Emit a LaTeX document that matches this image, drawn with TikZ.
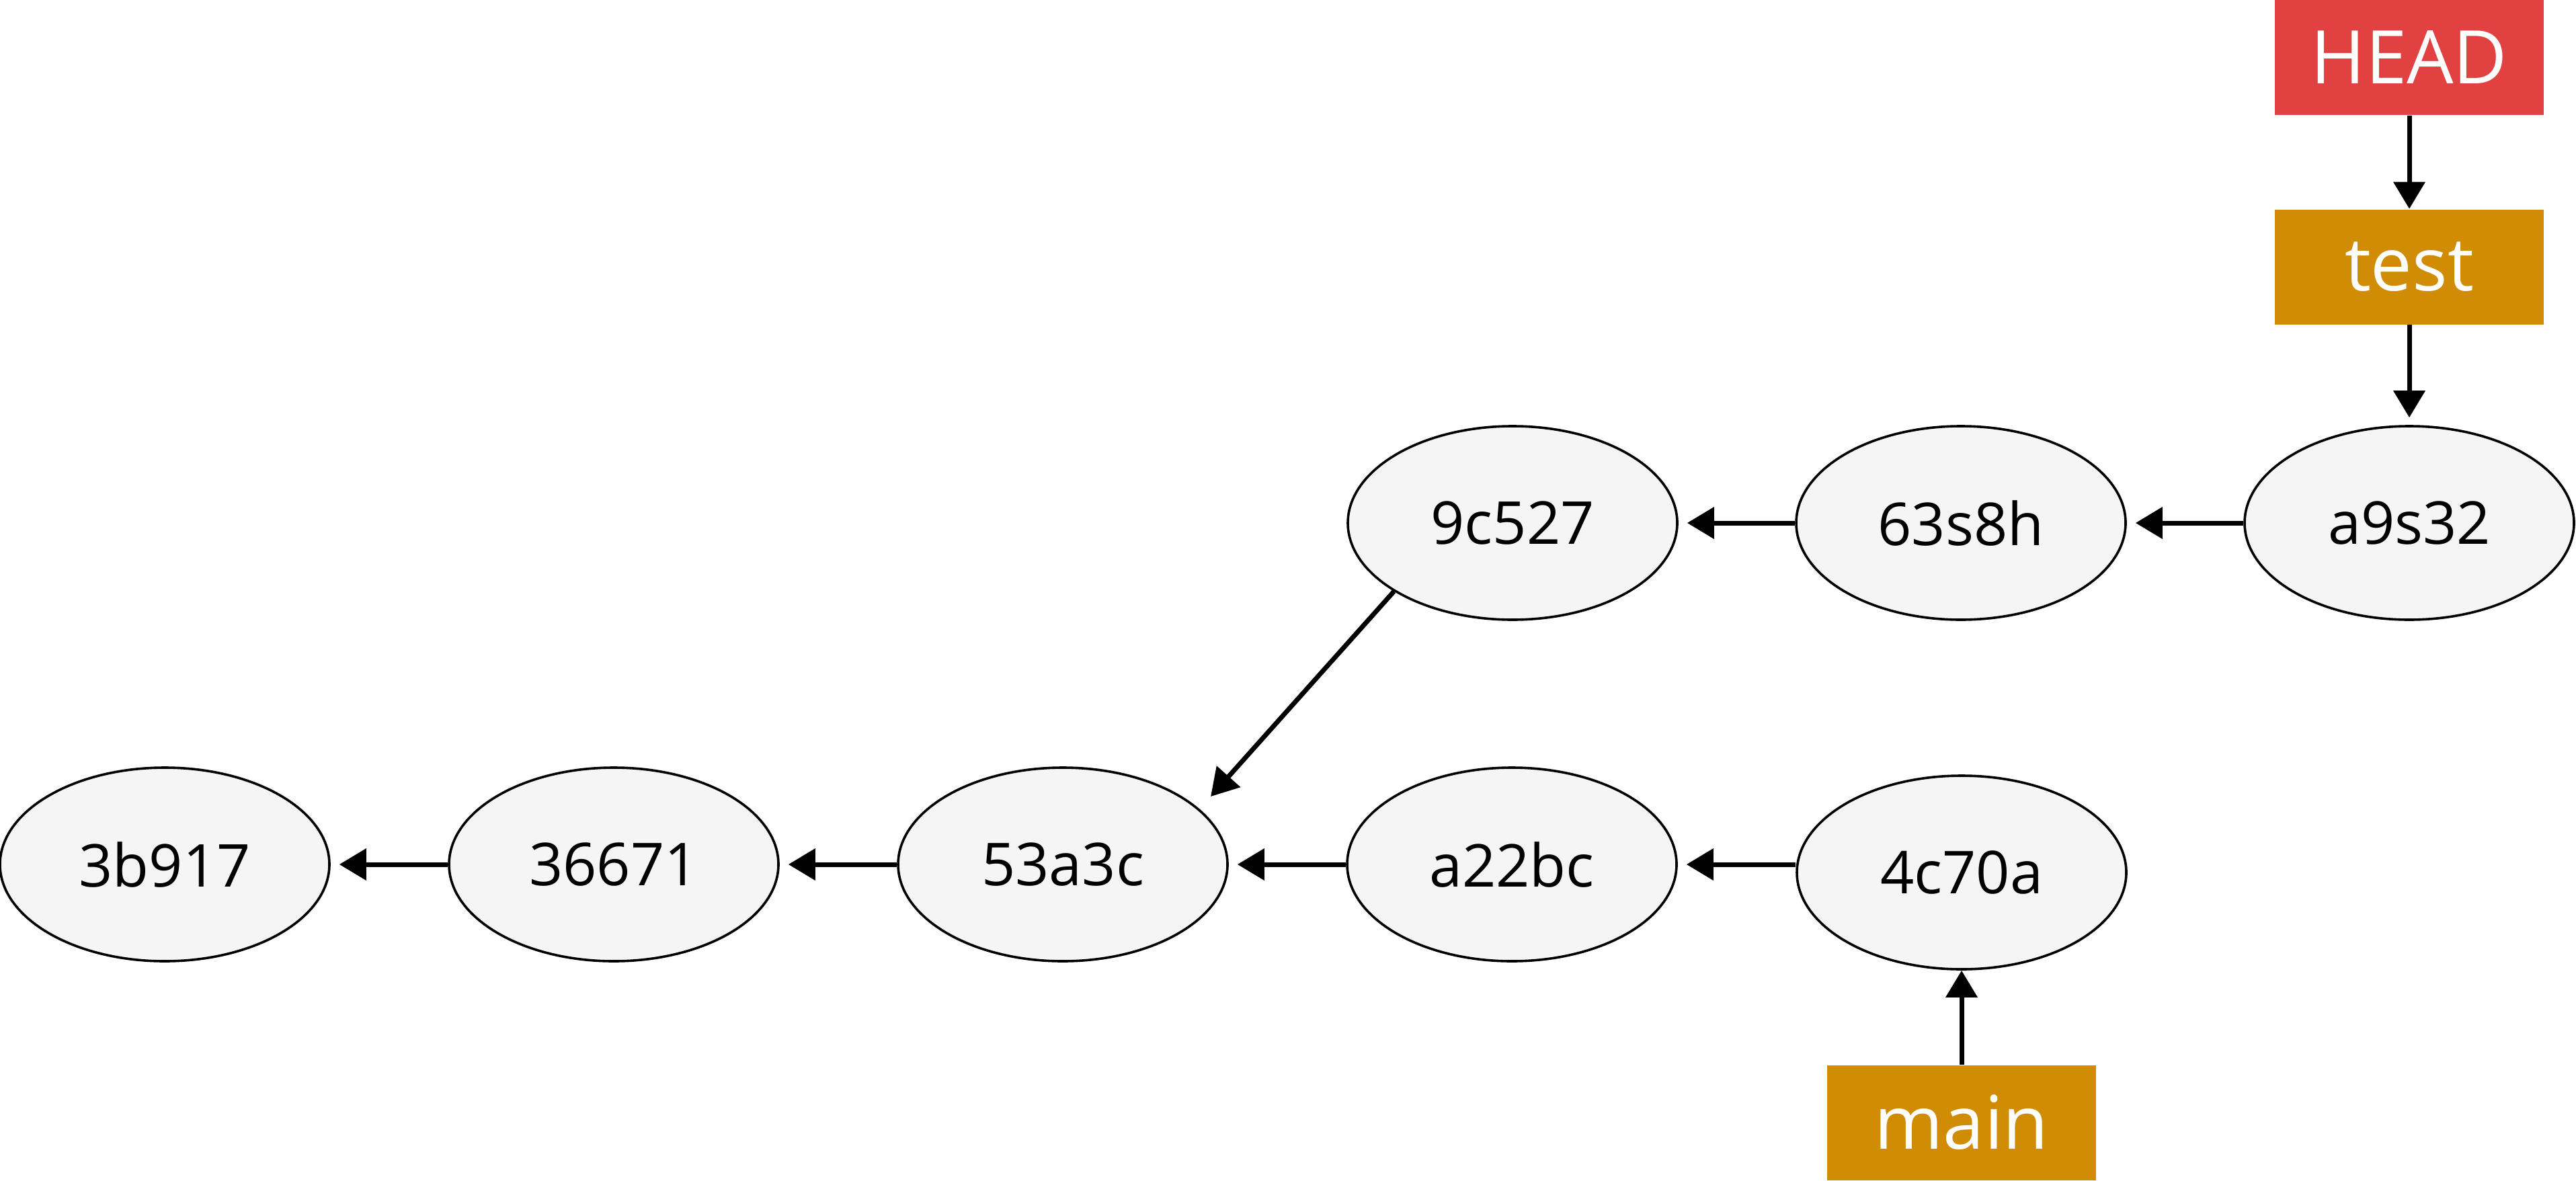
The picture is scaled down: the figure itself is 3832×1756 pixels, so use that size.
\documentclass[tikz,border=0pt]{standalone}
\usepackage{fontspec}
\setmainfont{Open Sans}
\usetikzlibrary{shapes.geometric,arrows.meta}
\definecolor{headred}{HTML}{E14141}
\definecolor{branchgold}{HTML}{D18C05}
\definecolor{commitfill}{HTML}{F5F5F5}
\tikzset{
  commit/.style={ellipse,draw=black,line width=0.9pt,fill=commitfill,
    minimum width=122.5pt,minimum height=72pt,inner sep=0pt,
    font=\fontsize{22}{26}\selectfont},
  refbox/.style={rectangle,draw=none,fill=#1,text=white,
    minimum width=100pt,minimum height=42.75pt,inner sep=0pt,
    font=\fontsize{27.5}{32}\selectfont},
  link/.style={line width=1.75pt,-{Triangle[length=10pt,width=11.5pt]}}
}
\begin{document}
\begin{tikzpicture}[x=0.25pt,y=-0.25pt]
\useasboundingbox (0,0) rectangle (3832,1756);
% commits
\node[commit] (c3b917) at (245,1286) {3b917};
\node[commit] (c36671) at (913,1286) {36671};
\node[commit] (c53a3c) at (1581,1286) {53a3c};
\node[commit] (ca22bc) at (2249,1286) {a22bc};
\node[commit] (c4c70a) at (2918,1298) {4c70a};
\node[commit] (c9c527) at (2250,778) {9c527};
\node[commit] (c63s8h) at (2917,778) {63s8h};
\node[commit] (ca9s32) at (3584,778) {a9s32};
% refs
\node[refbox=headred] (head) at (3584,85.5) {HEAD};
\node[refbox=branchgold] (test) at (3584,397) {test};
\node[refbox=branchgold] (main) at (2918,1670) {main};
\coordinate (diagtip) at (1801,1185);
% connectors
\draw[link,shorten >=3.25pt] (c36671.west) -- (c3b917.east);
\draw[link,shorten >=3.25pt] (c53a3c.west) -- (c36671.east);
\draw[link,shorten >=3.25pt] (ca22bc.west) -- (c53a3c.east);
\draw[link,shorten >=3.25pt] (c4c70a.west |- ca22bc.east) -- (ca22bc.east);
\draw[link,shorten >=3.25pt] (c63s8h.west) -- (c9c527.east);
\draw[link,shorten >=3.25pt] (ca9s32.west) -- (c63s8h.east);
\draw[link] (c9c527.210) -- (diagtip);
\draw[link] (head.south) -- (test.north);
\draw[link,shorten >=2.75pt] (test.south) -- (ca9s32.north);
\draw[link] (main.north) -- (c4c70a.south);
\end{tikzpicture}
\end{document}
